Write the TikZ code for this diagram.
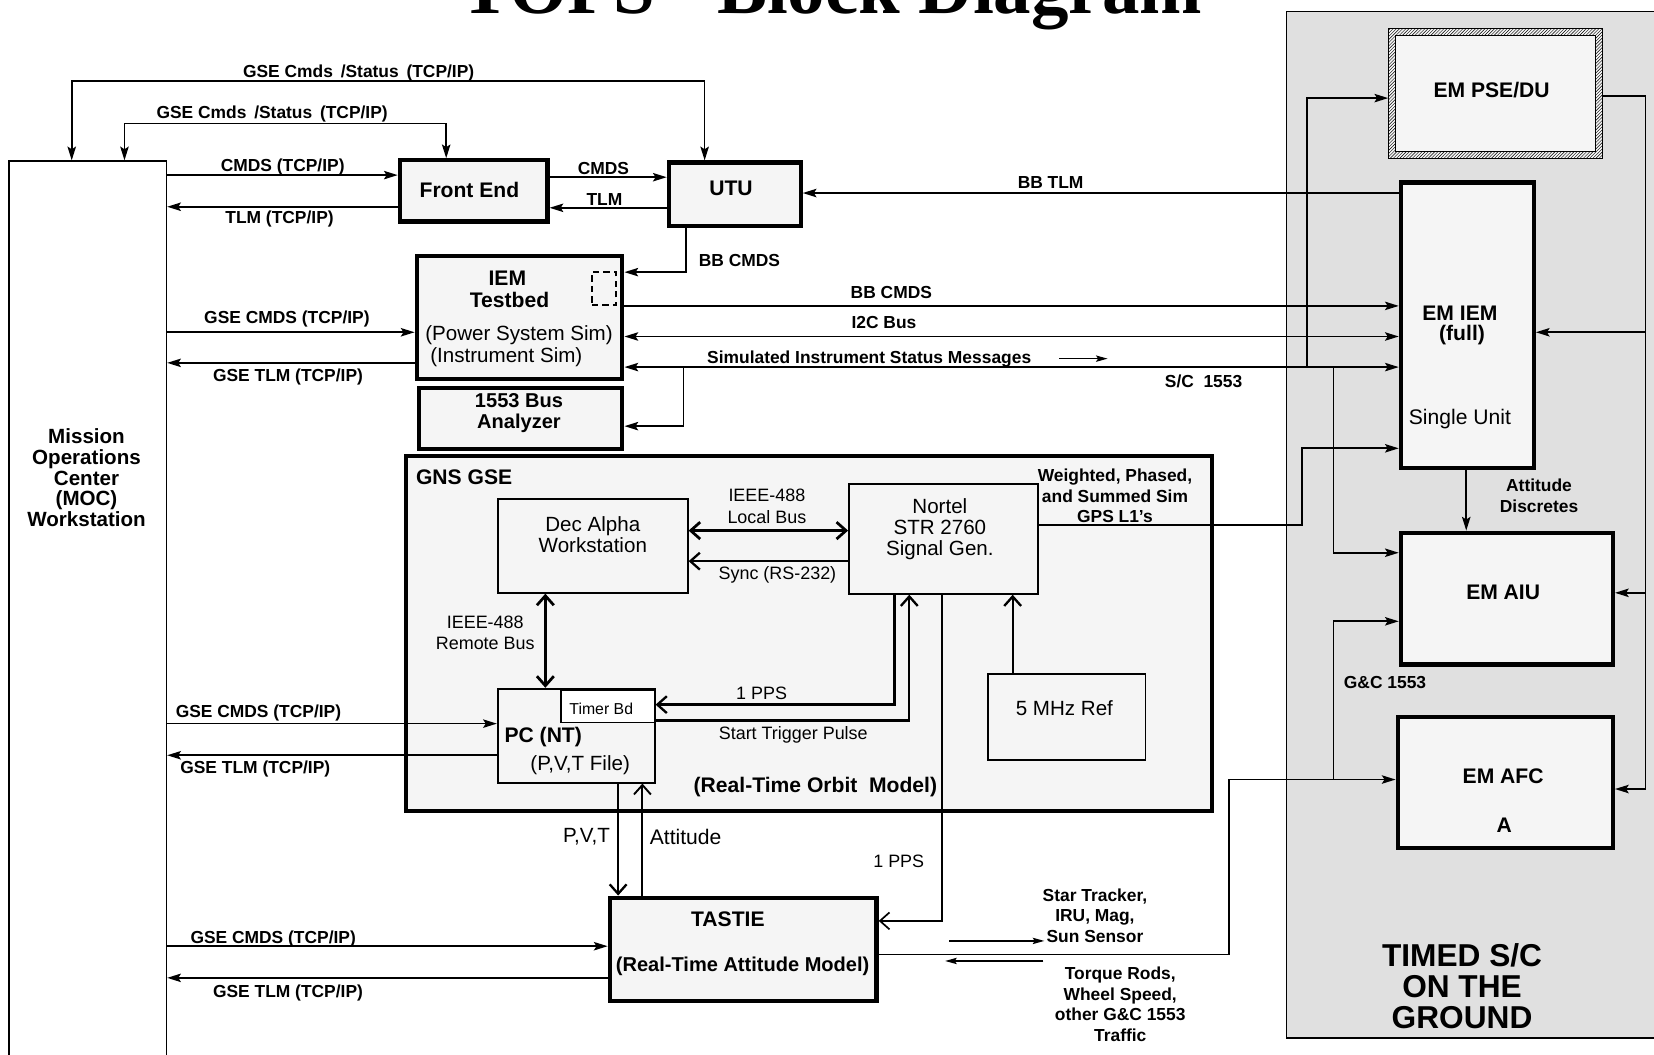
\documentclass[tikz,border=0pt]{standalone}
\usepackage{fontspec}
\setmainfont{Liberation Sans}
\newfontfamily\titlefont{Liberation Serif}
\usetikzlibrary{arrows.meta,patterns}
\newcommand\labf{\fontsize{16.5}{19.5}\selectfont\bfseries}
\newcommand\ttlf{\fontsize{20}{20}\selectfont\bfseries}
\newcommand\regf{\fontsize{19.5}{20}\selectfont}
\newcommand\smf{\fontsize{17}{20}\selectfont}
\begin{document}
\begin{tikzpicture}[x=1pt,y=-1pt,
  every node/.style={inner sep=0pt},
  tb/.style={draw, line width=4pt, fill=black!4, anchor=north west},
  nb/.style={draw, line width=1.8pt, fill=black!4, anchor=north west},
  lab/.style={font=\labf, align=center},
  ttl/.style={font=\ttlf, align=center},
  reg/.style={font=\regf, align=center},
  sm/.style={font=\smf, align=center},
  ln/.style={line width=1.6pt},
  arr/.style={ln, -{Stealth[length=13pt,width=8pt,inset=2.5pt]}},
  darr/.style={ln, {Stealth[length=13pt,width=8pt,inset=2.5pt]}-{Stealth[length=13pt,width=8pt,inset=2.5pt]}},
  smarr/.style={line width=1.3pt, -{Stealth[length=11pt,width=6pt,inset=2pt]}},
  chev/.style={line width=2.2pt, -{Straight Barb[length=9pt,width=16pt]}},
  dchev/.style={line width=2.6pt, {Straight Barb[length=9pt,width=16pt]}-{Straight Barb[length=9pt,width=16pt]}},
]
\useasboundingbox (0,0) rectangle (1568,1000);
\clip (0,0) rectangle (1568,1000);

% title
\node[font={\fontsize{71}{71}\titlefont\bfseries}, anchor=base] (title) at (788,13) {TOPS - Block Diagram};

% background boxes
\node[draw, line width=1.5pt, fill=black!12, minimum width=381pt, minimum height=973pt, anchor=north west] (timed) at (1219,10) {};
\node[draw, line width=1.5pt, fill=white, minimum width=149pt, minimum height=870pt, anchor=north west] (moc) at (8,152) {};
\node[tb, minimum width=764pt, minimum height=337pt] (gns) at (383,430) {};

% boxes
\node[tb, minimum width=140pt, minimum height=58pt] (fe) at (377,150) {};
\node[tb, minimum width=125pt, minimum height=60pt] (utu) at (632,152) {};
\node[tb, minimum width=195pt, minimum height=116pt] (iem) at (393,241) {};
\node[tb, minimum width=193pt, minimum height=58pt] (bus) at (395,366) {};
\node[nb, minimum width=180pt, minimum height=89pt] (dec) at (471,472) {};
\node[nb, minimum width=179pt, minimum height=104pt] (nortel) at (804,458) {};
\node[nb, minimum width=149pt, minimum height=82pt] (mhz) at (936,638) {};
\node[nb, minimum width=149pt, minimum height=89pt] (pc) at (471,652) {};
\node[nb, line width=1.5pt, fill=white, minimum width=89pt, minimum height=30pt] (timer) at (531,654) {};
\node[tb, minimum width=253pt, minimum height=98pt] (tastie) at (576,849) {};
\node[minimum width=203pt, minimum height=123pt, anchor=north west, fill=black!4] (pse) at (1316,27) {};
\fill[pattern=north east lines, even odd rule] (pse.north west) rectangle (pse.south east)
  ([xshift=7pt,yshift=-7pt]pse.north west) rectangle ([xshift=-7pt,yshift=7pt]pse.south east);
\draw[line width=1pt] (pse.north west) rectangle (pse.south east)
  ([xshift=7pt,yshift=-7pt]pse.north west) rectangle ([xshift=-7pt,yshift=7pt]pse.south east);
\node[tb, minimum width=126pt, minimum height=271pt] (emiem) at (1326,171) {};
\node[tb, minimum width=201pt, minimum height=125pt] (aiu) at (1326,503) {};
\node[tb, minimum width=204pt, minimum height=124pt] (afc) at (1323,678) {};
\node[draw, dashed, dash pattern=on 6pt off 4pt, line width=2pt, minimum width=23pt, minimum height=31pt, anchor=north west] (iemdash) at (560,257) {};

% box texts
\node[font={\fontsize{19.5}{19.6}\selectfont\bfseries}, align=center] (mocT) at (82,453) {Mission\\Operations\\Center\\(MOC)\\Workstation};
\node[ttl] (feT) at (445,180) {Front End};
\node[ttl] (utuT) at (693,179) {UTU};
\node[ttl] (iemT1) at (481,264) {IEM};
\node[ttl] (iemT2) at (483,284) {Testbed};
\node[reg] (iemT3) at (492,318) {(Power System Sim)};
\node[reg] (iemT4) at (480,339) {(Instrument Sim)};
\node[font={\fontsize{19}{20}\selectfont\bfseries}, align=center] (busT) at (492,392) {1553 Bus\\Analyzer};
\node[ttl] (gnsT) at (440,452) {GNS GSE};
\node[reg] (decT) at (562,507) {Dec Alpha\\Workstation};
\node[reg] (nortelT) at (891,502) {Nortel\\STR 2760\\Signal Gen.};
\node[reg] (mhzT) at (1009,671) {5 MHz Ref};
\node[font={\fontsize{15}{15}\selectfont}] (timerT) at (570,672) {Timer Bd};
\node[ttl] (pcT1) at (515,699) {PC (NT)};
\node[reg] (pcT2) at (550,725) {(P,V,T File)};
\node[ttl] (orbitT) at (773,746) {(Real-Time Orbit\ \ Model)};
\node[ttl] (tastieT1) at (690,871) {TASTIE};
\node[font={\fontsize{19}{20}\selectfont\bfseries}] (tastieT2) at (704,916) {(Real-Time Attitude Model)};
\node[ttl] (pseT) at (1414,85) {EM PSE/DU};
\node[ttl] (emiemT1) at (1384,297) {EM IEM};
\node[ttl] (emiemT2) at (1386,318) {(full)};
\node[font={\fontsize{20}{20}\selectfont}] (emiemT3) at (1384,397) {Single Unit};
\node[ttl] (aiuT) at (1425,562) {EM AIU};
\node[ttl] (afcT1) at (1425,736) {EM AFC};
\node[ttl] (afcT2) at (1426,782) {A};
\node[font={\fontsize{30}{29.5}\selectfont\bfseries}, align=center] (timedT) at (1386,935) {TIMED S/C\\ON THE\\GROUND};

% top loops
\draw[darr] (moc.north -| 68,0) -- (68,77) -- (668,77) -- (utu.north -| 668,0);
\draw[darr] (moc.north -| 118,0) -- (118,117) -- (423,117) -- (fe.north -| 423,0);
\node[lab] (l1) at (340,69) {GSE Cmds \,/Status \,(TCP/IP)};
\node[lab] (l2) at (258,108) {GSE Cmds \,/Status \,(TCP/IP)};

% MOC <-> Front End, Front End <-> UTU
\draw[arr] (moc.east |- 0,166) -- (fe.west |- 0,166);
\draw[arr] (fe.west |- 0,196) -- (moc.east |- 0,196);
\draw[arr] (fe.east |- 0,168) -- (utu.west |- 0,168);
\draw[arr] (utu.west |- 0,197) -- (fe.east |- 0,197);
\node[lab] (l3) at (268,158) {CMDS (TCP/IP)};
\node[lab] (l4) at (265,208) {TLM (TCP/IP)};
\node[lab] (l5) at (572,160) {CMDS};
\node[lab] (l6) at (573,189) {TLM};

% BB TLM, BB CMDS
\draw[arr] (emiem.west |- 0,183) -- (utu.east |- 0,183);
\node[lab] (l7) at (996,173) {BB TLM};
\draw[arr] (utu.south -| 650,0) |- (iem.east |- 0,258);
\node[lab] (l8) at (701,247) {BB CMDS};

% MOC <-> IEM testbed
\draw[arr] (moc.east |- 0,315) -- (iem.west |- 0,315);
\draw[arr] (iem.west |- 0,344) -- (moc.east |- 0,344);
\node[lab] (l9) at (272,302) {GSE CMDS (TCP/IP)};
\node[lab] (l10) at (273,357) {GSE TLM (TCP/IP)};

% IEM testbed <-> EM IEM
\draw[arr] (iem.east |- 0,290) -- (emiem.west |- 0,290);
\draw[darr] (iem.east |- 0,319) -- (emiem.west |- 0,319);
\draw[darr] (iem.east |- 0,348) -- (emiem.west |- 0,348);
\node[lab] (l11) at (845,277) {BB CMDS};
\node[lab] (l12) at (838,306) {I2C Bus};
\node[lab] (l13) at (824,340) {Simulated Instrument Status Messages};
\coordinate (m1) at (1004,340);
\coordinate (m2) at (1050,340);
\draw[smarr] (m1) -- (m2);
\node[lab] (l14) at (1141,362) {S/C\ \ 1553};

% 1553 branches
\coordinate (j1) at (648,348);
\draw[arr] (j1) |- (bus.east |- 0,404);
\coordinate (j2) at (1239,348);
\draw[arr] (j2) |- (pse.west |- 0,93);
\coordinate (j3) at (1264,348);
\draw[arr] (j3) |- (aiu.west |- 0,524);

% GPS L1's
\coordinate (g1) at (1234,498);
\draw[arr] (nortel.east |- 0,498) -- (g1) |- (emiem.west |- 0,425);
\node[lab] (l15) at (1057,470) {Weighted, Phased,\\and Summed Sim\\GPS L1’s};

% attitude discretes
\draw[arr] (emiem.south -| 1390,0) -- (aiu.north -| 1390,0);
\node[lab] (l16) at (1459,470) {Attitude\\Discretes};

% right bus
\coordinate (r1) at (1560,91);
\coordinate (r2) at (1560,748);
\draw[ln] (pse.east |- 0,91) -- (r1) -- (r2);
\draw[arr] (r2) -- (afc.east |- 0,748);
\draw[arr] (r1 |- 0,315) -- (emiem.east |- 0,315);
\draw[arr] (r1 |- 0,562) -- (aiu.east |- 0,562);

% G&C 1553
\coordinate (c1) at (1165,905);
\draw[arr] (tastie.east |- 0,905) -- (c1) |- (afc.west |- 0,739);
\coordinate (c2) at (1264,739);
\draw[arr] (c2) |- (aiu.west |- 0,589);
\node[lab] (l17) at (1313,647) {G\&C 1553};

% inside GNS
\draw[dchev] (dec.east |- 0,503) -- (nortel.west |- 0,503);
\node[sm] (l18) at (727,480) {IEEE-488\\Local Bus};
\draw[chev] (nortel.west |- 0,532) -- (dec.east |- 0,532);
\node[sm] (l19) at (737,545) {Sync (RS-232)};
\draw[dchev] (dec.south -| 517,0) -- (pc.north -| 517,0);
\node[sm] (l20) at (460,600) {IEEE-488\\Remote Bus};
\draw[chev] (nortel.south -| 848,0) |- (timer.east |- 0,668);
\node[sm] (l21) at (722,657) {1 PPS};
\draw[chev] (timer.east |- 0,683) -| (nortel.south -| 862,0);
\node[sm] (l22) at (752,697) {Start Trigger Pulse};
\draw[chev] (mhz.north -| 960,0) -- (nortel.south -| 960,0);

% Nortel 1 PPS to TASTIE
\draw[chev, line width=1.6pt] (nortel.south -| 893,0) |- (tastie.east |- 0,873);
\node[sm] (l23) at (852,817) {1 PPS};

% MOC <-> PC
\draw[arr] (moc.east |- 0,686) -- (pc.west |- 0,686);
\draw[arr] (pc.west |- 0,716) -- (moc.east |- 0,716);
\node[lab] (l24) at (245,676) {GSE CMDS (TCP/IP)};
\node[lab] (l25) at (242,729) {GSE TLM (TCP/IP)};

% PC <-> TASTIE
\draw[chev] (pc.south -| 586,0) -- (tastie.north -| 586,0);
\draw[chev, line width=1.8pt] (tastie.north -| 609,0) -- (pc.south -| 609,0);
\node[reg] (l26) at (556,793) {P,V,T};
\node[font={\fontsize{20}{20}\selectfont}] (l27) at (650,793) {Attitude};

% MOC <-> TASTIE
\draw[arr] (moc.east |- 0,897) -- (tastie.west |- 0,897);
\draw[arr] (tastie.west |- 0,927) -- (moc.east |- 0,927);
\node[lab] (l28) at (259,890) {GSE CMDS (TCP/IP)};
\node[lab] (l29) at (273,941) {GSE TLM (TCP/IP)};

% G&C traffic labels
\coordinate (s1) at (900,892);
\coordinate (s2) at (990,892);
\draw[smarr] (s1) -- (s2);
\coordinate (t1) at (989,911);
\coordinate (t2) at (896,911);
\draw[smarr] (t1) -- (t2);
\node[lab] (l30) at (1038,868) {Star Tracker,\\IRU, Mag,\\Sun Sensor};
\node[lab] (l31) at (1062,952) {Torque Rods,\\Wheel Speed,\\other G\&C 1553\\Traffic};
\end{tikzpicture}
\end{document}
